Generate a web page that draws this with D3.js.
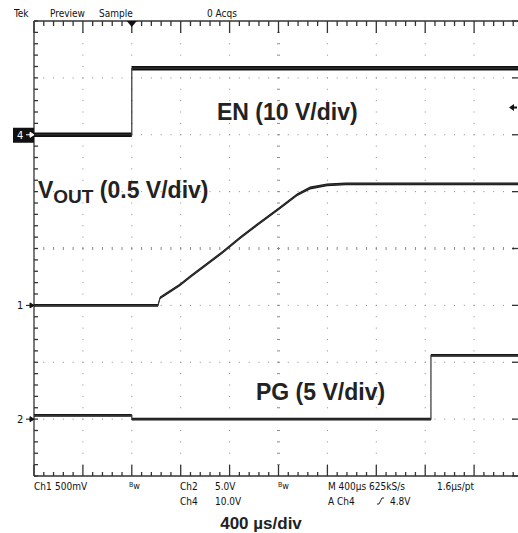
<!DOCTYPE html>
<html>
<head>
<meta charset="utf-8">
<script src="https://cdn.jsdelivr.net/npm/d3@7"></script>
<style>
  body { margin: 0; background: #fff; }
  .scope { font-family: "Liberation Sans Narrow", "DejaVu Sans Condensed", sans-serif; font-size: 10px; fill: #111; }
  .label { font-family: "Liberation Sans", Arial, sans-serif; font-weight: bold; fill: #222; }
</style>
</head>
<body>
<div id="chart"></div>
<script>
'use strict';

// time in µs, trigger at 0 (400 µs/div, 10 divisions)
const enTime = [-800, 0, 0, 3200];
const enVolts = [0, 0, 11.7, 11.7];

const voutTime = [-800, 214, 231, 394, 476, 746, 885, 1024, 1212, 1351, 1458, 1597, 1750, 3200];
const voutVolts = [0, 0, 0.066, 0.18, 0.25, 0.47, 0.593, 0.707, 0.857, 0.971, 1.032, 1.059, 1.068, 1.068];

const pgTime = [-800, 0, 0, 2447, 2447, 3200];
const pgVolts = [0.33, 0.33, 0, 0, 5.6, 5.6];

// channel name, volts per division, ground offset in divisions
const channels = [
  { id: '4', time: enTime, volts: enVolts, vdiv: 10, offset: 2, band: 2.2 },
  { id: '1', time: voutTime, volts: voutVolts, vdiv: 0.5, offset: -1, band: 1.4 },
  { id: '2', time: pgTime, volts: pgVolts, vdiv: 5, offset: -3, band: 1.4 },
];

const triggerLevel = 4.8; // V on ch4

const width = 518;
const height = 533;

const svg = d3.select('#chart')
  .append('svg')
  .attr('width', width)
  .attr('height', height);

const x = d3.scaleLinear()
  .domain([-800, 3200])
  .range([34, 523]);

const y = d3.scaleLinear()
  .domain([-4, 4])
  .range([476, 21]);

const majorX = d3.range(-800, 3201, 400);
const minorX = d3.range(-800, 3201, 80);
const majorY = d3.range(-4, 4.01, 1);
const minorY = d3.range(-4, 4.01, 0.2);

const grid = svg.append('g');

// dotted graticule
majorX.slice(1, -1).forEach((t) => {
  if (t === 1200) return;
  grid.selectAll(null)
    .data(minorY.slice(1, -1))
    .join('rect')
    .attr('x', x(t) - 0.5)
    .attr('y', (d) => y(d) - 0.5)
    .attr('width', 1)
    .attr('height', 1)
    .attr('fill', '#8a8a8a');
});
majorY.slice(1, -1).forEach((v) => {
  if (v === 0) return;
  grid.selectAll(null)
    .data(minorX.slice(1, -1))
    .join('rect')
    .attr('x', (d) => x(d) - 0.5)
    .attr('y', y(v) - 0.5)
    .attr('width', 1)
    .attr('height', 1)
    .attr('fill', '#8a8a8a');
});

// center crosshair ticks
grid.selectAll(null)
  .data(minorY.slice(1, -1))
  .join('line')
  .attr('x1', x(1200) - 1.5)
  .attr('x2', x(1200) + 1.5)
  .attr('y1', (d) => y(d))
  .attr('y2', (d) => y(d))
  .attr('stroke', '#8a8a8a');
grid.selectAll(null)
  .data(minorX.slice(1, -1))
  .join('line')
  .attr('x1', (d) => x(d))
  .attr('x2', (d) => x(d))
  .attr('y1', y(0) - 1.5)
  .attr('y2', y(0) + 1.5)
  .attr('stroke', '#8a8a8a');

// border
const border = svg.append('g')
  .attr('stroke', '#333')
  .attr('stroke-width', 1.3);

border.append('line').attr('x1', x(-800)).attr('x2', x(3200)).attr('y1', y(4)).attr('y2', y(4));
border.append('line').attr('x1', x(-800)).attr('x2', x(3200)).attr('y1', y(-4)).attr('y2', y(-4));
border.append('line').attr('x1', x(-800)).attr('x2', x(-800)).attr('y1', y(4)).attr('y2', y(-4));

border.selectAll(null)
  .data(minorX)
  .join('line')
  .attr('x1', (d) => x(d))
  .attr('x2', (d) => x(d))
  .attr('y1', y(4))
  .attr('y2', (d) => y(4) + (d % 400 === 0 ? 12 : 5));
border.selectAll(null)
  .data(minorX)
  .join('line')
  .attr('x1', (d) => x(d))
  .attr('x2', (d) => x(d))
  .attr('y1', y(-4))
  .attr('y2', (d) => y(-4) - (d % 400 === 0 ? 11 : 4));
border.selectAll(null)
  .data(minorY)
  .join('line')
  .attr('x1', x(-800))
  .attr('x2', x(-800) + 4)
  .attr('y1', (d) => y(d))
  .attr('y2', (d) => y(d));
border.selectAll(null)
  .data(majorY)
  .join('line')
  .attr('x1', width)
  .attr('x2', width - 6)
  .attr('y1', (d) => y(d))
  .attr('y2', (d) => y(d));

// trigger position marker
svg.append('path')
  .attr('d', `M${x(0) - 5},${y(4)} L${x(0) + 5},${y(4)} L${x(0)},${y(4) + 6} Z`)
  .attr('fill', '#111');

// trigger level marker at right
const ty = y(channels[0].offset + triggerLevel / channels[0].vdiv);
svg.append('path')
  .attr('d', `M${width - 9},${ty} L${width - 4},${ty - 3.5} L${width - 4},${ty + 3.5} Z M${width - 5},${ty - 1} h4 v2 h-4 Z`)
  .attr('fill', '#111');

// traces
channels.forEach((ch) => {
  const pts = ch.time.map((t, i) => [t, ch.offset + ch.volts[i] / ch.vdiv]);

  const band = d3.area()
    .x((d) => x(d[0]))
    .y0((d) => y(d[1]) - ch.band)
    .y1((d) => y(d[1]) + ch.band);

  const line = d3.line()
    .x((d) => x(d[0]))
    .y((d) => y(d[1]));

  svg.append('path')
    .datum(pts)
    .attr('d', band)
    .attr('fill', '#111');

  svg.append('path')
    .datum(pts)
    .attr('d', line)
    .attr('fill', 'none')
    .attr('stroke', '#333')
    .attr('stroke-width', 1.2);

  // ground marker on the left edge
  const gy = y(ch.offset);
  const marker = svg.append('g');
  if (ch.id === '4') {
    marker.append('rect')
      .attr('x', 13).attr('y', gy - 7).attr('width', 21).attr('height', 15)
      .attr('fill', '#111');
  }
  const fg = ch.id === '4' ? '#fff' : '#111';
  marker.append('text')
    .attr('class', 'scope')
    .attr('x', 17)
    .attr('y', gy + 4)
    .style('fill', fg)
    .style('font-size', '11px')
    .text(ch.id);
  marker.append('path')
    .attr('d', `M26,${gy} H33 M34,${gy} L30,${gy - 2.5} L30,${gy + 2.5} Z`)
    .attr('stroke', fg)
    .attr('fill', fg);
});

// trace labels
svg.append('text').attr('class', 'label')
  .attr('x', 217).attr('y', 120)
  .style('font-size', '23px')
  .text('EN (10 V/div)');

const vout = svg.append('text').attr('class', 'label')
  .attr('x', 38).attr('y', 198)
  .style('font-size', '23px');
vout.append('tspan').text('V');
vout.append('tspan').attr('dy', 5).style('font-size', '19px').text('OUT');
vout.append('tspan').attr('dy', -5).text(' (0.5 V/div)');

svg.append('text').attr('class', 'label')
  .attr('x', 256).attr('y', 400)
  .style('font-size', '23px')
  .text('PG (5 V/div)');

// header
const header = [['Tek', 14], ['Preview', 50], ['Sample', 99], ['0 Acqs', 207]];
svg.selectAll(null)
  .data(header)
  .join('text')
  .attr('class', 'scope')
  .attr('x', (d) => d[1])
  .attr('y', 17)
  .text((d) => d[0]);

// readout
const readout = [
  ['Ch1', 34, 490], ['500mV', 55, 490], ['Ch2', 180, 490], ['5.0V', 215, 490],
  ['M 400µs 625kS/s', 328, 490], ['1.6µs/pt', 437, 490],
  ['Ch4', 180, 505], ['10.0V', 215, 505], ['A', 328, 505], ['Ch4', 337, 505], ['4.8V', 390, 505],
];
svg.selectAll(null)
  .data(readout)
  .join('text')
  .attr('class', 'scope')
  .attr('x', (d) => d[1])
  .attr('y', (d) => d[2])
  .text((d) => d[0]);

[129, 278].forEach((bx) => {
  const t = svg.append('text').attr('class', 'scope').attr('x', bx).attr('y', 489);
  t.append('tspan').style('font-size', '7px').attr('dy', -2).text('B');
  t.append('tspan').style('font-size', '9px').attr('dy', 2).text('w');
});

// rising edge symbol
svg.append('path')
  .attr('d', 'M377,504 h2 l3,-6 h2')
  .attr('fill', 'none')
  .attr('stroke', '#111')
  .attr('stroke-width', 0.9);

svg.append('text').attr('class', 'label')
  .attr('x', 261).attr('y', 529)
  .attr('text-anchor', 'middle')
  .style('font-size', '17px')
  .text('400 µs/div');
</script>
</body>
</html>
